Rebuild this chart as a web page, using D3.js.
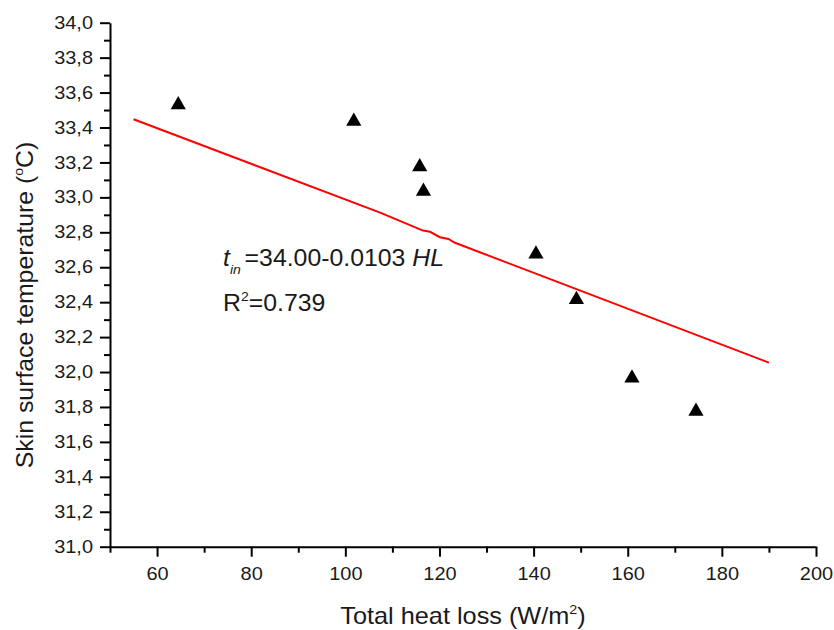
<!DOCTYPE html>
<html>
<head>
<meta charset="utf-8">
<script src="https://cdn.jsdelivr.net/npm/d3@7"></script>
<style>
    body { margin: 0; background: #fff; }
    text { font-family: "Liberation Sans", Arial, sans-serif; fill: #1a1a1a; }
</style>
</head>
<body>
<div id="chart"></div>
<script>
// measured points: total heat loss vs skin temperature
let heatLoss = [64.5, 101.8, 115.8, 116.6, 140.5, 149.1, 160.9, 174.5];
let skinTemp = [33.53, 33.435, 33.175, 33.035, 32.675, 32.415, 31.965, 31.775];

// fitted line as drawn
let fitX = [55, 107.4, 116.5, 118, 120.1, 121.9, 123.3, 190];
let fitY = [33.447, 32.913, 32.81, 32.803, 32.772, 32.762, 32.74, 32.054];

let xMajor = [60, 80, 100, 120, 140, 160, 180, 200];
let xMinor = [50, 70, 90, 110, 130, 150, 170, 190];
let yMajor = [31.0, 31.2, 31.4, 31.6, 31.8, 32.0, 32.2, 32.4, 32.6, 32.8, 33.0, 33.2, 33.4, 33.6, 33.8, 34.0];
let yMinor = [31.1, 31.3, 31.5, 31.7, 31.9, 32.1, 32.3, 32.5, 32.7, 32.9, 33.1, 33.3, 33.5, 33.7, 33.9];

let width = 834, height = 630;
let margin = {top: 22.7, right: 18, bottom: 83.3, left: 110};

let svg = d3.select("#chart").append("svg")
    .attr("width", width)
    .attr("height", height);

svg.append("rect").attr("width", width).attr("height", height).attr("fill", "#fff");

let x = d3.scaleLinear().domain([50, 200]).range([margin.left, width - margin.right]);
let y = d3.scaleLinear().domain([31, 34]).range([height - margin.bottom, margin.top]);

let stretch = 1.14;

// x axis
let xAxis = svg.append("g")
    .attr("transform", `translate(0, ${y(31)})`)
    .call(d3.axisBottom(x).tickValues(xMajor).tickSize(10).tickPadding(11).tickSizeOuter(0)
        .tickFormat(d3.format("d")));
svg.append("g")
    .attr("transform", `translate(0, ${y(31)})`)
    .call(d3.axisBottom(x).tickValues(xMinor).tickSize(6).tickFormat(""))
    .select(".domain").remove();

// y axis
let yAxis = svg.append("g")
    .attr("transform", `translate(${x(50)}, 0)`)
    .call(d3.axisLeft(y).tickValues(yMajor).tickSize(10).tickPadding(7).tickSizeOuter(0)
        .tickFormat(d => d3.format(".1f")(d).replace(".", ",")));
svg.append("g")
    .attr("transform", `translate(${x(50)}, 0)`)
    .call(d3.axisLeft(y).tickValues(yMinor).tickSize(6).tickFormat(""))
    .select(".domain").remove();

svg.selectAll(".domain, .tick line")
    .attr("stroke", "#000")
    .attr("stroke-width", 2);

svg.selectAll(".tick text")
    .style("font-size", "17.5px")
    .style("font-family", "'Liberation Sans', Arial, sans-serif")
    .attr("fill", "#2a2a2a");

// stretch tick labels a little horizontally
xAxis.selectAll(".tick text").attr("transform", `scale(${stretch},1)`);
yAxis.selectAll(".tick text")
    .attr("x", -17 / stretch)
    .attr("transform", `scale(${stretch},1)`);

// regression line
let line = d3.line().x(d => x(d[0])).y(d => y(d[1]));
svg.append("path")
    .datum(d3.zip(fitX, fitY))
    .attr("d", line)
    .attr("fill", "none")
    .attr("stroke", "#ff0000")
    .attr("stroke-width", 2);

// data triangles
svg.selectAll(".pt")
    .data(d3.zip(heatLoss, skinTemp))
    .enter()
    .append("path")
    .attr("class", "pt")
    .attr("d", d3.symbol().type(d3.symbolTriangle).size(100))
    .attr("transform", d => `translate(${x(d[0])}, ${y(d[1])})`)
    .attr("fill", "#000");

// equation
let eq = svg.append("text")
    .attr("transform", "translate(223, 266) scale(1.08,1)")
    .style("font-size", "23px");
eq.append("tspan").style("font-style", "italic").text("t");
eq.append("tspan").style("font-style", "italic").style("font-size", "13px")
    .attr("dy", 8).attr("dx", 0).text("in");
eq.append("tspan").attr("dy", -8).attr("x", 20).text("=34.00-0.0103 ");
eq.append("tspan").style("font-style", "italic").text("HL");

let r2 = svg.append("text")
    .attr("transform", "translate(223, 311) scale(1.08,1)")
    .style("font-size", "23px");
r2.append("tspan").text("R");
r2.append("tspan").style("font-size", "13px").attr("dy", -10).text("2");
r2.append("tspan").attr("dy", 10).text("=0.739");

// axis titles
let xt = svg.append("text")
    .attr("transform", `translate(463, 624) scale(1.1,1)`)
    .attr("text-anchor", "middle")
    .style("font-size", "23px");
xt.append("tspan").text("Total heat loss (W/m");
xt.append("tspan").style("font-size", "13px").attr("dy", -10).text("2");
xt.append("tspan").attr("dy", 10).text(")");

let yt = svg.append("text")
    .attr("transform", `translate(33, 305) rotate(-90) scale(1.08,1)`)
    .attr("text-anchor", "middle")
    .style("font-size", "23px");
yt.append("tspan").text("Skin surface temperature (");
yt.append("tspan").style("font-size", "13px").attr("dy", -10).text("o");
yt.append("tspan").attr("dy", 10).text("C)");
</script>
</body>
</html>
